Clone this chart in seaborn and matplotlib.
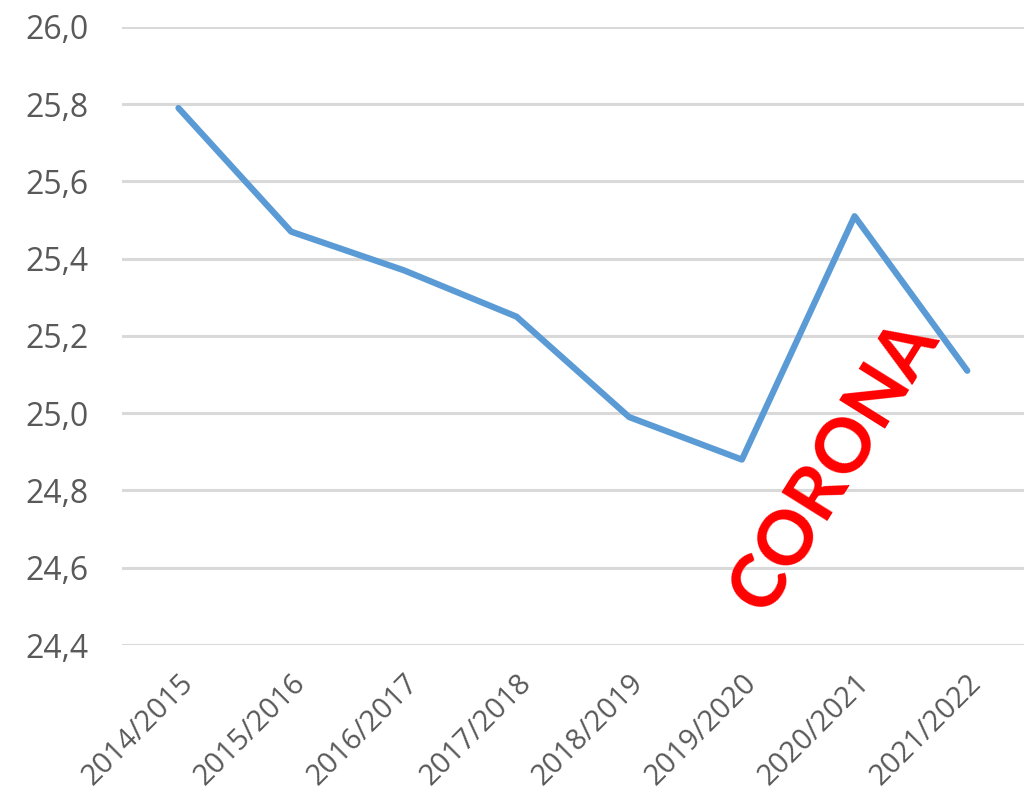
import pandas as pd
import matplotlib
matplotlib.use('Agg')
import matplotlib.pyplot as plt
import seaborn as sns

# values
seasons = ['2014/2015', '2015/2016', '2016/2017', '2017/2018',
           '2018/2019', '2019/2020', '2020/2021', '2021/2022']
values = [25.79, 25.47, 25.37, 25.25, 24.99, 24.88, 25.51, 25.11]
y_ticks = [24.4, 24.6, 24.8, 25.0, 25.2, 25.4, 25.6, 25.8, 26.0]

df = pd.DataFrame({'season': seasons, 'value': values})

sns.set_theme(style='white')
plt.rcParams['font.family'] = ['Open Sans', 'DejaVu Sans']

fig = plt.figure(figsize=(10.35, 8.08), dpi=100)
ax = fig.add_axes([0.118, 0.2017, 0.871, 0.765])

sns.lineplot(data=df, x='season', y='value', ax=ax, color='#5B9BD5',
             linewidth=4.5, sort=False)

ax.set_xlim(-0.5, len(seasons) - 0.5)
ax.set_ylim(24.4, 26.0)
ax.set_yticks(y_ticks)
ax.set_yticklabels([f'{v:.1f}'.replace('.', ',') for v in y_ticks])
ax.yaxis.grid(True, color='#D9D9D9', linewidth=2.2)
ax.set_axisbelow(True)
ax.set_xlabel('')
ax.set_ylabel('')
for s in ax.spines.values():
    s.set_visible(False)

ax.tick_params(axis='y', length=0, pad=24, labelsize=23, labelcolor='#595959')
ax.tick_params(axis='x', length=0, pad=17, labelsize=21, labelcolor='#595959')
plt.setp(ax.get_xticklabels(), rotation=45, ha='right', rotation_mode='anchor')

fig.text(0.806, 0.423, 'CORONA', color='#FF0000', fontsize=54,
         fontweight='bold', family=['Lato', 'DejaVu Sans'],
         rotation=58, ha='center', va='center')

fig.savefig('out.png', dpi=100)
